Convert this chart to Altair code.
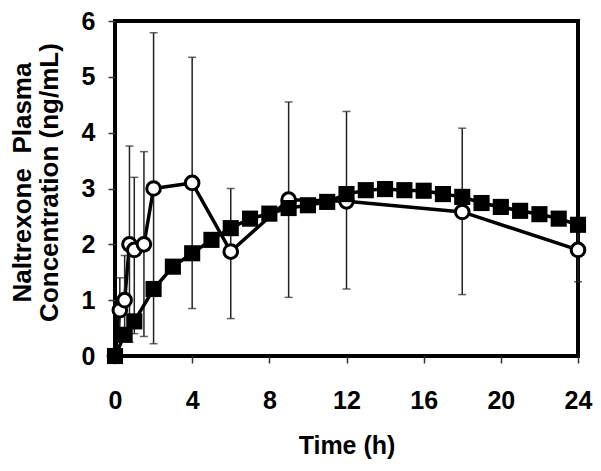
import altair as alt
import pandas as pd

# Open circles (with SD error bars)
t_open = [0, 0.25, 0.5, 0.75, 1, 1.5, 2, 4, 6, 9, 12, 18, 24]
c_open = [0, 0.82, 1.0, 2.0, 1.9, 2.0, 3.0, 3.1, 1.87, 2.8, 2.77, 2.58, 1.9]
err_hi = [0, 1.4, 1.8, 3.76, 3.2, 3.66, 5.79, 5.35, 3.0, 4.55, 4.38, 4.08, 2.45]
err_lo = [0, 0.3, 0.3, 0.25, 0.4, 0.35, 0.22, 0.85, 0.67, 1.05, 1.2, 1.1, 1.33]

# Filled squares (simulated profile)
t_sq = [0, 0.5, 1, 2, 3, 4, 5, 6, 7, 8, 9, 10, 11, 12, 13, 14, 15, 16, 17, 18,
        19, 20, 21, 22, 23, 24]
c_sq = [0, 0.38, 0.62, 1.2, 1.6, 1.84, 2.08, 2.29, 2.46, 2.55, 2.65, 2.7, 2.76,
        2.9, 2.97, 2.99, 2.97, 2.96, 2.9, 2.85, 2.74, 2.67, 2.6, 2.54, 2.46, 2.35]

x_ticks = [0, 4, 8, 12, 16, 20, 24]
y_ticks = [0, 1, 2, 3, 4, 5, 6]

df_open = pd.DataFrame({"t": t_open, "c": c_open, "hi": err_hi, "lo": err_lo})
df_err = df_open[df_open["hi"] > 0]
df_sq = pd.DataFrame({"t": t_sq, "c": c_sq})

FONT = "Liberation Sans"

x_enc = alt.X(
    "t:Q",
    scale=alt.Scale(domain=[0, 24], nice=False),
    axis=alt.Axis(
        values=x_ticks, format="d", labelFlush=False, title="Time (h)",
        labelPadding=25, titleY=97, titleBaseline="alphabetic", titleFontSize=25,
    ),
)
y_enc = alt.Y(
    "c:Q",
    scale=alt.Scale(domain=[0, 6], nice=False),
    axis=alt.Axis(
        values=y_ticks, format="d", labelFlush=False,
        title=["Naltrexone\u00a0 Plasma", "Concentration (ng/mL)"],
        labelPadding=13, titleAngle=270, titleX=-106, titleY=161,
        titleAlign="center", titleBaseline="top", titleFontSize=26,
        titleLineHeight=27,
    ),
)

base_err = alt.Chart(df_err)
rules = base_err.mark_rule(color="#222", strokeWidth=1.5).encode(
    x=alt.X("t:Q"), y=alt.Y("lo:Q"), y2="hi:Q"
)
cap_hi = base_err.mark_tick(color="#222", thickness=1.5, size=8, orient="horizontal").encode(
    x="t:Q", y="hi:Q"
)
cap_lo = base_err.mark_tick(color="#222", thickness=1.5, size=8, orient="horizontal").encode(
    x="t:Q", y="lo:Q"
)

open_line = alt.Chart(df_open).mark_line(color="black", strokeWidth=3.5).encode(x=x_enc, y=y_enc)
open_pts = alt.Chart(df_open).mark_point(
    shape="circle", filled=True, fill="white", stroke="black", strokeWidth=3,
    size=185, opacity=1
).encode(x="t:Q", y="c:Q")

sq_line = alt.Chart(df_sq).mark_line(color="black", strokeWidth=3.5).encode(x="t:Q", y="c:Q")
sq_pts = alt.Chart(df_sq).mark_point(
    shape="square", filled=True, color="black", size=260, opacity=1
).encode(x="t:Q", y="c:Q")

chart = alt.layer(
    open_line, rules, cap_hi, cap_lo, open_pts, sq_line, sq_pts
).properties(
    width=463, height=335,
    autosize=alt.AutoSizeParams(type="none"),
    padding={"left": 107, "top": 13, "right": 15, "bottom": 107},
).configure_view(
    stroke="black", strokeWidth=4
).configure_axis(
    domain=False, grid=False,
    labelFont=FONT, labelFontWeight="bold", labelFontSize=25, labelColor="black",
    titleFont=FONT, titleFontWeight="bold", titleColor="black",
    tickColor="#333", tickSize=7, tickWidth=1.5,
)

chart.save("out.html", embed_options={"renderer": "svg", "actions": False})
